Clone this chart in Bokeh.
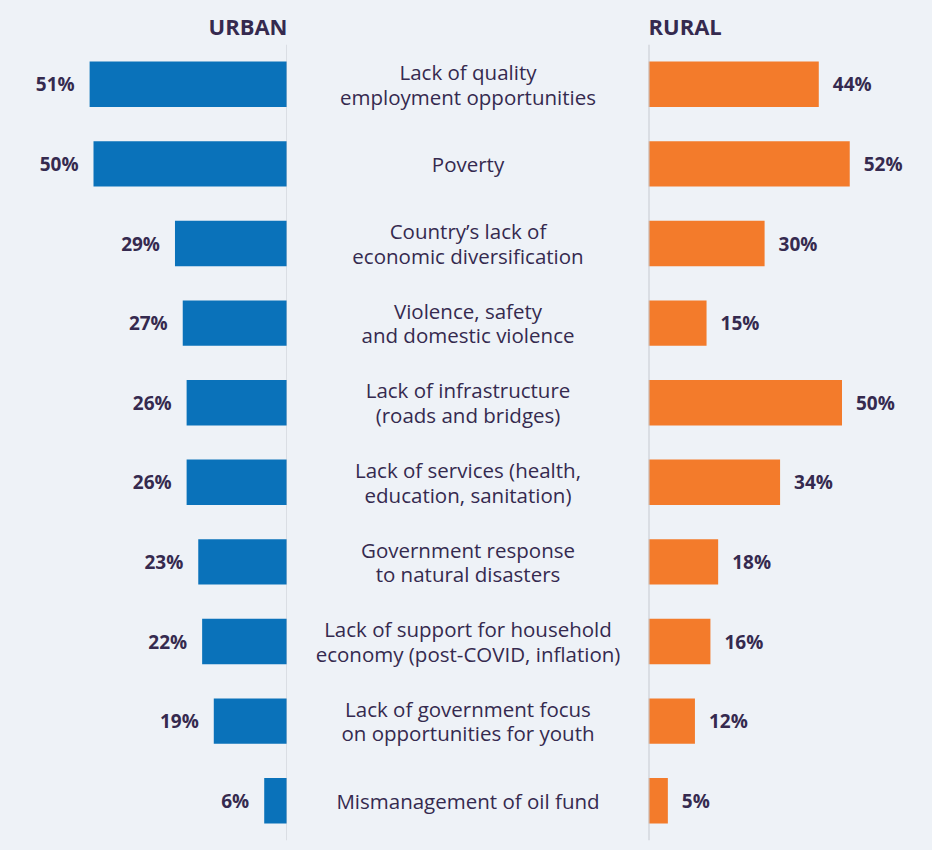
from bokeh.plotting import figure
from bokeh.models import Range1d, FactorRange, Span, ColumnDataSource
from bokeh.layouts import row
from bokeh.core.properties import value
from bokeh.embed import file_html
from bokeh.resources import INLINE

categories = [
    "Lack of quality\nemployment opportunities",
    "Poverty",
    "Country\u2019s lack of\neconomic diversification",
    "Violence, safety\nand domestic violence",
    "Lack of infrastructure\n(roads and bridges)",
    "Lack of services (health,\neducation, sanitation)",
    "Government response\nto natural disasters",
    "Lack of support for household\neconomy (post-COVID, inflation)",
    "Lack of government focus\non opportunities for youth",
    "Mismanagement of oil fund",
]
urban = [51, 50, 29, 27, 26, 26, 23, 22, 19, 6]
rural = [44, 52, 30, 15, 50, 34, 18, 16, 12, 5]

BG = "#eef2f7"
BLUE = "#0a72ba"
ORANGE = "#f37b2b"
TXT = "#352a4f"
LINE = "#c6c9d1"
FONT = "Open Sans"

src = ColumnDataSource(dict(
    cat=categories, urban=urban, rural=rural,
    ulab=[f"{v}%" for v in urban], rlab=[f"{v}%" for v in rural],
))

H = 850
TOP = 44
BOT = 10


def base(width, xr, title=None, align="left"):
    p = figure(width=width, height=H, x_range=xr,
               y_range=FactorRange(factors=categories[::-1], range_padding=0),
               output_backend="svg", toolbar_location=None,
               x_axis_location=None, y_axis_location=None,
               min_border_left=0, min_border_right=0,
               min_border_top=TOP, min_border_bottom=BOT,
               background_fill_color=BG, border_fill_color=BG,
               outline_line_color=None)
    p.grid.visible = False
    if title:
        p.title.text = title
        p.title.align = align
        p.title.text_font = FONT
        p.title.text_font_style = "bold"
        p.title.text_font_size = "22px"
        p.title.text_color = TXT
        p.title.standoff = 8
    return p


left = base(287, Range1d(287 / 3.88, 0), "URBAN", "right")
left.add_layout(Span(location=0, dimension="height", line_color=LINE, line_width=2))
left.hbar(y="cat", left=0, right="urban", height=0.57, source=src,
          fill_color=BLUE, line_color=None)
left.text(x="urban", y="cat", text="ulab", source=src, x_offset=-15,
          text_align="right", text_baseline="middle",
          text_font=value(FONT), text_font_size="19px", text_color=TXT,
          text_font_style="bold")

mid = base(361, Range1d(0, 1))
mid.text(x=0.5, y="cat", text="cat", source=src,
         text_align="center", text_baseline="middle",
         text_font=value(FONT), text_font_size="20.5px", text_color=TXT,
         text_line_height=0.88)

right = base(284, Range1d(0, 284 / 3.87), "RURAL", "left")
right.add_layout(Span(location=0, dimension="height", line_color=LINE, line_width=2))
right.hbar(y="cat", left=0, right="rural", height=0.57, source=src,
           fill_color=ORANGE, line_color=None)
right.text(x="rural", y="cat", text="rlab", source=src, x_offset=14,
           text_align="left", text_baseline="middle",
           text_font=value(FONT), text_font_size="19px", text_color=TXT,
           text_font_style="bold")

layout = row(left, mid, right, spacing=0)
html = file_html(layout, INLINE)
html = html.replace("<head>", "<head><style>body{background:%s;}</style>" % BG, 1)
open("out.html", "w").write(html)
